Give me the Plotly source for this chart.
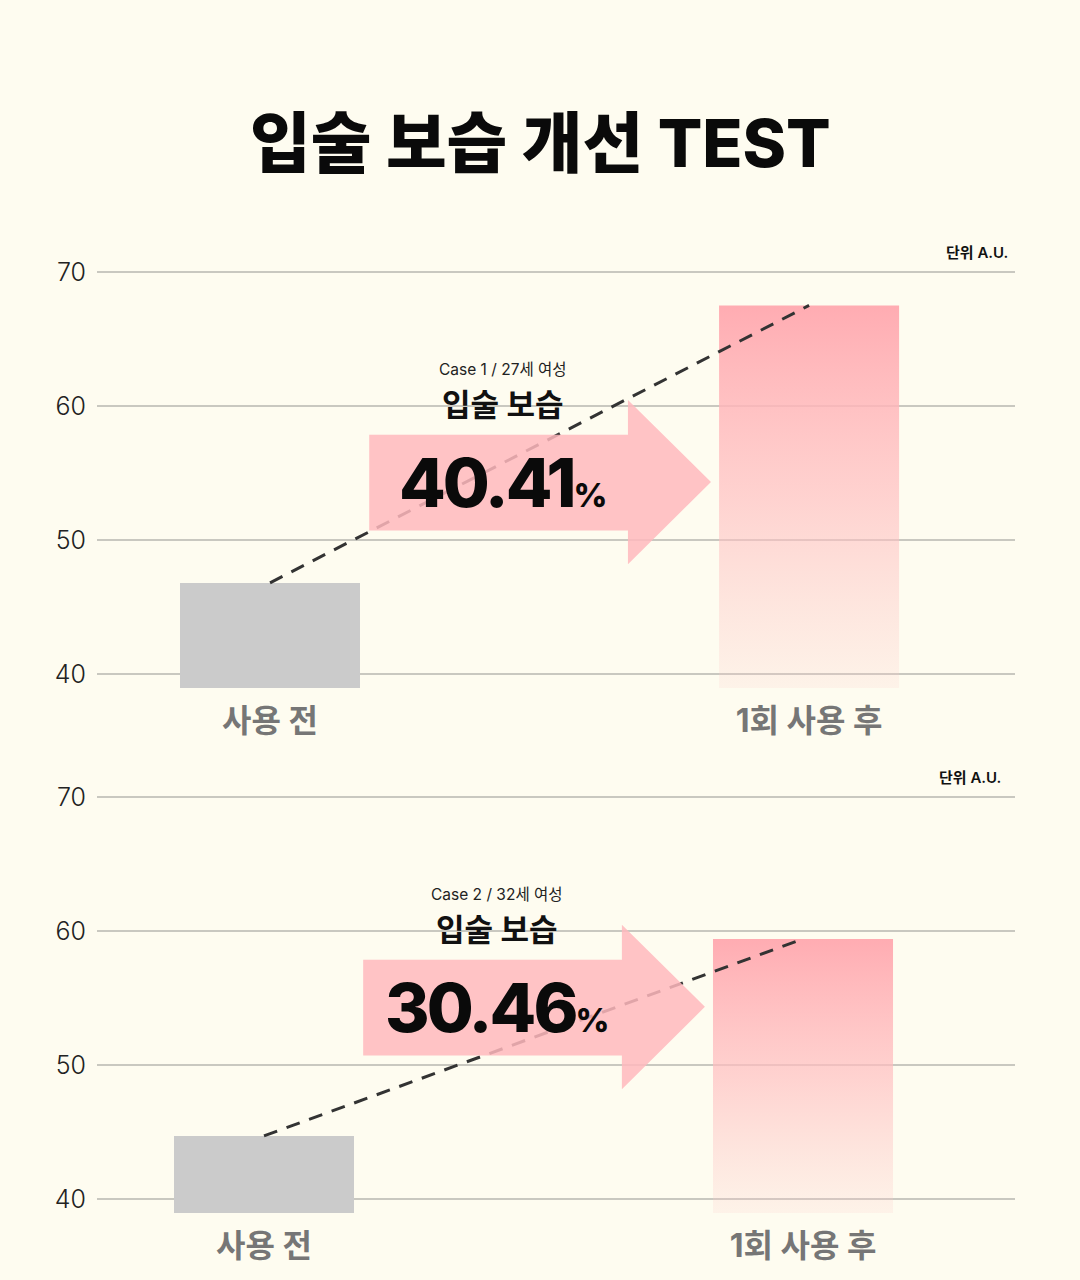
import plotly.graph_objects as go
from plotly.subplots import make_subplots

# 데이터
categories = ["사용 전", "1회 사용 후"]
case_labels = ["Case 1 / 27세 여성", "Case 2 / 32세 여성"]
before_values = [46.8, 44.7]
after_values = [67.5, 59.4]
improvement_pct = [40.41, 30.46]
y_ticks = [40, 50, 60, 70]
metric_label = "입술 보습"
unit_label = "단위 A.U."
title_text = "입술 보습 개선 TEST"

# 스타일
BG = "#FEFCF0"
FONT = "Inter, Noto Sans CJK KR, sans-serif"
Y_RANGE = [38.95, 70.5]
BAR_W = 0.334
X_RANGES = [[-0.321, 1.382], [-0.3098, 1.3933]]
Y_DOMAINS = [[0.4625, 0.7928], [0.05234, 0.3827]]
X_DOMAIN = [97 / 1080, 1015 / 1080]
UNIT_X = [0.9946, 0.987]

fig = make_subplots(rows=2, cols=1)

shapes = []
annotations = []

for i in range(2):
    row = i + 1
    sfx = "" if i == 0 else str(row)
    base = Y_RANGE[0]
    xs = list(range(len(categories)))

    # 사용 전 막대
    fig.add_trace(go.Bar(
        x=[xs[0]], y=[before_values[i]],
        width=BAR_W,
        marker={"color": "#CBCBCB", "line": {"width": 0}},
        hoverinfo="skip", showlegend=False
    ), row=row, col=1)

    # 1회 사용 후 막대 (그라데이션)
    c = xs[1]
    fig.add_trace(go.Scatter(
        x=[c - BAR_W / 2, c + BAR_W / 2, c + BAR_W / 2, c - BAR_W / 2, c - BAR_W / 2],
        y=[base, base, after_values[i], after_values[i], base],
        mode="lines", fill="toself",
        line={"width": 0, "color": "rgba(0,0,0,0)"},
        fillgradient={"type": "vertical",
                      "colorscale": [[0, "rgba(252,200,198,0.18)"],
                                     [0.5, "rgba(255,190,192,0.68)"],
                                     [1, "rgba(255,172,178,1)"]]},
        hoverinfo="skip", showlegend=False
    ), row=row, col=1)

    # 점선
    fig.add_trace(go.Scatter(
        x=xs, y=[before_values[i], after_values[i]],
        mode="lines",
        line={"color": "#333333", "width": 3, "dash": "14px,10px"},
        hoverinfo="skip", showlegend=False
    ), row=row, col=1)

    # 화살표
    shapes.append({
        "type": "path", "xref": "x" + sfx, "yref": "y" + sfx,
        "path": "M 0.184,57.85 L 0.664,57.85 L 0.664,60.45 L 0.818,54.33 "
                "L 0.664,48.18 L 0.664,50.7 L 0.184,50.7 Z",
        "fillcolor": "#FFB8BD", "opacity": 0.85,
        "line": {"width": 0}, "layer": "above"
    })

    ax = "x" + sfx
    ay = "y" + sfx
    annotations += [
        {"text": case_labels[i], "x": 0.432, "y": 62.69, "xref": ax, "yref": ay,
         "showarrow": False, "font": {"size": 15.5, "color": "#222222", "family": FONT}},
        {"text": metric_label, "x": 0.432, "y": 60.07, "xref": ax, "yref": ay,
         "showarrow": False, "font": {"size": 31, "color": "#111111", "family": FONT, "weight": 700}},
        {"text": f"<span style='letter-spacing:-3px'>{improvement_pct[i]:.2f}</span>"
                 f"<span style='font-size:33px'>%</span>",
         "x": 0.432, "y": 54.3, "xref": ax, "yref": ay,
         "showarrow": False, "font": {"size": 68, "color": "#0A0A0A", "family": FONT, "weight": 800}},
        {"text": unit_label, "x": UNIT_X[i], "y": 1.029,
         "xref": ax + " domain", "yref": ay + " domain",
         "xanchor": "right", "yanchor": "middle", "showarrow": False,
         "font": {"size": 15, "color": "#111111", "family": FONT, "weight": 600}},
    ]

    fig.update_xaxes(
        range=X_RANGES[i], domain=X_DOMAIN, automargin=False,
        tickvals=xs, ticktext=categories,
        showgrid=False, zeroline=False, showline=False, ticks="",
        ticklabelstandoff=11,
        tickfont={"size": 32, "color": "#767676", "family": FONT, "weight": 700},
        row=row, col=1)
    fig.update_yaxes(
        range=Y_RANGE, domain=Y_DOMAINS[i], automargin=False,
        tickvals=y_ticks,
        showgrid=True, gridcolor="#C9C8C0", gridwidth=2,
        zeroline=False, showline=False, ticks="",
        ticklabelstandoff=10,
        tickfont={"size": 25, "color": "#222222", "family": FONT, "weight": 300},
        row=row, col=1)

annotations.append({
    "text": title_text, "x": 0.5, "y": 1 - 143 / 1280, "xref": "paper", "yref": "paper",
    "showarrow": False, "yanchor": "middle",
    "font": {"size": 66, "color": "#0A0A0A", "family": FONT, "weight": 800}
})

fig.update_layout(
    width=1080, height=1280, autosize=False,
    margin={"l": 0, "r": 0, "t": 0, "b": 0},
    paper_bgcolor=BG, plot_bgcolor=BG,
    shapes=shapes, annotations=annotations,
    bargap=0, showlegend=False
)

fig.write_html("out.html", config={"displayModeBar": False},
               post_script="document.body.style.margin='0';")
